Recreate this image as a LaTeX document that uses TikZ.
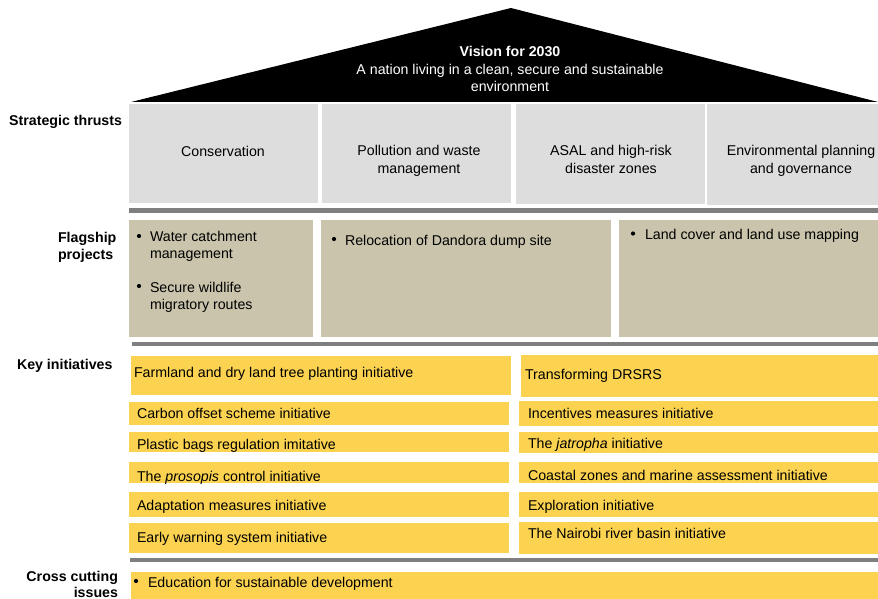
\documentclass[tikz,border=0pt]{standalone}
\usepackage{fontspec}
\setmainfont{Liberation Sans}
\definecolor{thrustgray}{RGB}{221,221,221}
\definecolor{flagtan}{RGB}{201,196,171}
\definecolor{inityellow}{RGB}{252,211,80}
\definecolor{bargray}{RGB}{127,127,127}
\newcommand{\basefont}{\fontsize{14.2}{17}\selectfont}
\tikzset{
  every node/.style={font=\basefont, inner sep=0pt, outer sep=0pt},
  txt/.style={anchor=base west},
  ctxt/.style={anchor=base},
  rlbl/.style={anchor=base east, font=\basefont\bfseries},
  llbl/.style={anchor=base west, font=\basefont\bfseries},
  bul/.style={circle, fill=black, minimum size=4.2pt},
  thrust/.style={fill=thrustgray},
  flag/.style={fill=flagtan},
  init/.style={fill=inityellow},
  sepbar/.style={fill=bargray},
}
\begin{document}
\begin{tikzpicture}[x=1pt,y=-1pt]
\useasboundingbox (0,0) rectangle (878,599);
% roof
\fill[black] (131,102) -- (511,8) -- (878,102) -- cycle;
\node[ctxt, text=white, font=\basefont\bfseries] (vt) at (510,57) {Vision for 2030};
\node[ctxt, text=white] (v1) at (510,75) {A nation living in a clean, secure and sustainable};
\node[ctxt, text=white] (v2) at (510,92) {environment};
% strategic thrusts
\node[rlbl] (st) at (122,126) {Strategic thrusts};
\fill[thrust] (129,104) rectangle (318,203);
\fill[thrust] (322,104) rectangle (511,203);
\fill[thrust] (516,104) rectangle (705,204);
\fill[thrust] (707,104) rectangle (878,205);
\node[ctxt] (t1) at (223,157) {Conservation};
\node[ctxt] (t2a) at (419,156) {Pollution and waste};
\node[ctxt] (t2b) at (419,173) {management};
\node[ctxt] (t3a) at (611,156) {ASAL and high-risk};
\node[ctxt] (t3b) at (611,173) {disaster zones};
\node[ctxt] (t4a) at (801,156) {Environmental planning};
\node[ctxt] (t4b) at (801,173) {and governance};
\fill[sepbar] (129,208) rectangle (878,213);
% flagship projects
\node[llbl] (fp1) at (58,242) {Flagship};
\node[llbl] (fp2) at (58,259) {projects};
\fill[flag] (129,220) rectangle (313,337);
\fill[flag] (321,220) rectangle (611,337);
\fill[flag] (619,220) rectangle (878,337);
\node[bul] (b1) at (139,236) {};
\node[txt] (f1a) at (150,241) {Water catchment};
\node[txt] (f1b) at (150,258) {management};
\node[bul] (b2) at (139,286) {};
\node[txt] (f2a) at (150,292) {Secure wildlife};
\node[txt] (f2b) at (150,309) {migratory routes};
\node[bul] (b3) at (334,239) {};
\node[txt] (f3) at (345,245) {Relocation of Dandora dump site};
\node[bul] (b4) at (633,233.5) {};
\node[txt] (f4) at (645,239) {Land cover and land use mapping};
\fill[sepbar] (132,342) rectangle (878,346);
% key initiatives
\node[llbl] (ki) at (17,369) {Key initiatives};
\fill[init] (131,356) rectangle (511,395);
\fill[init] (129,402) rectangle (509,425);
\fill[init] (129,432) rectangle (509,452);
\fill[init] (129,462) rectangle (509,483);
\fill[init] (129,492) rectangle (509,517);
\fill[init] (129,523) rectangle (509,553);
\fill[init] (521,355) rectangle (878,397);
\fill[init] (519,401) rectangle (878,426);
\fill[init] (519,432) rectangle (878,453);
\fill[init] (519,462) rectangle (878,483);
\fill[init] (519,492) rectangle (878,517);
\fill[init] (519,522) rectangle (878,554);
\node[txt] (k1) at (134,377) {Farmland and dry land tree planting initiative};
\node[txt] (k2) at (137,418) {Carbon offset scheme initiative};
\node[txt] (k3) at (137,449) {Plastic bags regulation imitative};
\node[txt] (k4) at (137,481) {The \textit{prosopis} control initiative};
\node[txt] (k5) at (137,510) {Adaptation measures initiative};
\node[txt] (k6) at (137,542) {Early warning system initiative};
\node[txt] (r1) at (525,379) {Transforming DRSRS};
\node[txt] (r2) at (528,418) {Incentives measures initiative};
\node[txt] (r3) at (528,448) {The \textit{jatropha} initiative};
\node[txt] (r4) at (528,480) {Coastal zones and marine assessment initiative};
\node[txt] (r5) at (528,510) {Exploration initiative};
\node[txt] (r6) at (528,538) {The Nairobi river basin initiative};
\fill[sepbar] (130,558) rectangle (878,562);
% cross cutting
\node[rlbl] (cc1) at (118,581) {Cross cutting};
\node[rlbl] (cc2) at (118,597) {issues};
\fill[init] (131,572) rectangle (878,599);
\node[bul] (b5) at (136,581) {};
\node[txt] (cc) at (148,587) {Education for sustainable development};
\end{tikzpicture}
\end{document}
